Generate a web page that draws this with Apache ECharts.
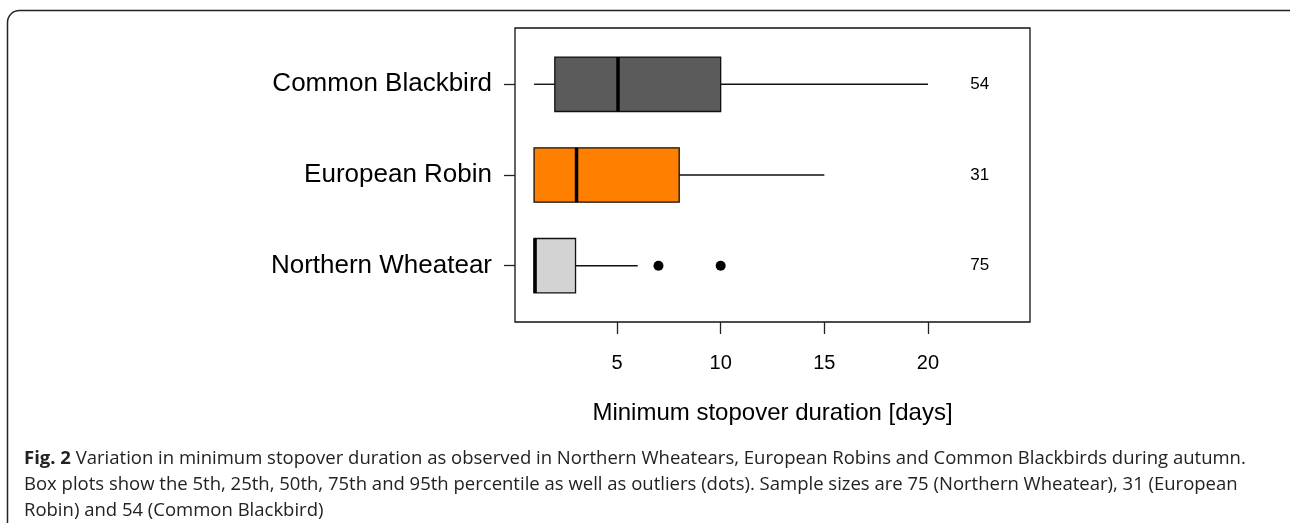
<!DOCTYPE html>
<html>
<head>
<meta charset="utf-8">
<title>Minimum stopover duration</title>
<script src="https://cdn.jsdelivr.net/npm/echarts@6/dist/echarts.min.js"></script>
<style>
  html, body { margin: 0; padding: 0; background: #fff; }
  #chart { width: 1290px; height: 523px; }
</style>
</head>
<body>
<div id="chart"></div>
<script>
// species from bottom (y=1) to top (y=3)
var species = ['Northern Wheatear', 'European Robin', 'Common Blackbird'];
var whiskerLow = [1, 1, 1];
var quartile1 = [1, 1, 2];
var medians = [1, 3, 5];
var quartile3 = [3, 8, 10];
var whiskerHigh = [6, 15, 20];
var wheatearOutliers = [7, 10];
var sampleSizes = [75, 31, 54];
var xTicks = [5, 10, 15, 20];

var boxColors = ['#d3d3d3', '#ff7f00', '#5b5b5b'];
var labelFont = '"Liberation Sans", Arial, sans-serif';
var nLabelX = 22.5;   // where the sample sizes sit
var boxHalf = 0.3;

var chart = echarts.init(document.getElementById('chart'));

var boxData = species.map(function (s, i) {
    return [i + 1, whiskerLow[i], quartile1[i], medians[i], quartile3[i], whiskerHigh[i]];
});
var outlierData = wheatearOutliers.map(function (v) { return [v, 1]; });
var nData = sampleSizes.map(function (n, i) { return [nLabelX, i + 1, n]; });

function renderBox(params, api) {
    var y = api.value(0);
    var lo = api.coord([api.value(1), y]);
    var q1 = api.coord([api.value(2), y]);
    var md = api.coord([api.value(3), y]);
    var q3 = api.coord([api.value(4), y]);
    var hi = api.coord([api.value(5), y]);
    var top = api.coord([0, y + boxHalf])[1];
    var bot = api.coord([0, y - boxHalf])[1];
    var lineStyle = { stroke: '#111', lineWidth: 1.4 };
    return {
        type: 'group',
        children: [
            { type: 'line', shape: { x1: lo[0], y1: lo[1], x2: q1[0], y2: q1[1] }, style: lineStyle },
            { type: 'line', shape: { x1: q3[0], y1: q3[1], x2: hi[0], y2: hi[1] }, style: lineStyle },
            {
                type: 'rect',
                shape: { x: q1[0], y: top, width: q3[0] - q1[0], height: bot - top },
                style: { fill: boxColors[params.dataIndex], stroke: '#111', lineWidth: 1.3 }
            },
            {
                type: 'line',
                shape: { x1: md[0] + 1, y1: top, x2: md[0] + 1, y2: bot },
                style: { stroke: '#000', lineWidth: 3.5 }
            }
        ]
    };
}

function renderN(params, api) {
    var p = api.coord([api.value(0), api.value(1)]);
    return {
        type: 'text',
        x: p[0], y: p[1],
        style: {
            text: String(api.value(2)),
            font: '17px ' + labelFont,
            fill: '#000',
            align: 'center',
            verticalAlign: 'middle'
        }
    };
}

var option = {
    animation: false,
    title: {
        left: 19,
        top: 441,
        text: '{b|Fig. 2} Variation in minimum stopover duration as observed in Northern Wheatears, European Robins and Common Blackbirds during autumn.\n' +
              'Box plots show the 5th, 25th, 50th, 75th and 95th percentile as well as outliers (dots). Sample sizes are 75 (Northern Wheatear), 31 (European\n' +
              'Robin) and 54 (Common Blackbird)',
        textStyle: {
            fontFamily: '"Open Sans", sans-serif',
            fontSize: 18.5,
            fontWeight: 'normal',
            color: '#222',
            lineHeight: 26,
            rich: {
                b: { fontFamily: '"Open Sans", sans-serif', fontSize: 18.5, fontWeight: 'bold', color: '#222', lineHeight: 26 }
            }
        }
    },
    graphic: [{
        type: 'rect',
        z: -1,
        shape: { x: 7.5, y: 10.5, width: 1300, height: 600, r: 12 },
        style: { fill: 'none', stroke: '#222', lineWidth: 1.5 }
    }],
    grid: {
        left: 515, top: 28, right: 260, bottom: 201,
        show: true, borderColor: '#111', borderWidth: 1.3, backgroundColor: 'transparent'
    },
    xAxis: {
        type: 'value',
        min: 0.08, max: 24.92,
        name: 'Minimum stopover duration [days]',
        nameLocation: 'middle',
        nameGap: 79,
        nameTextStyle: { fontFamily: labelFont, fontSize: 24, color: '#000' },
        axisLine: { show: false },
        splitLine: { show: false },
        axisTick: { show: true, length: 12, customValues: xTicks, lineStyle: { color: '#222', width: 1.3 } },
        axisLabel: { customValues: xTicks, margin: 31, fontFamily: labelFont, fontSize: 20, color: '#000' }
    },
    yAxis: {
        type: 'value',
        min: 0.38, max: 3.62,
        axisLine: { show: false },
        splitLine: { show: false },
        axisTick: { show: true, length: 11, customValues: [1, 2, 3], lineStyle: { color: '#222', width: 1.3 } },
        axisLabel: {
            customValues: [1, 2, 3],
            margin: 23,
            fontFamily: labelFont, fontSize: 26, color: '#000',
            formatter: function (v) { return species[Math.round(v) - 1]; }
        }
    },
    series: [
        {
            type: 'custom',
            renderItem: renderBox,
            encode: { x: [1, 2, 3, 4, 5], y: 0 },
            data: boxData
        },
        {
            type: 'scatter',
            symbol: 'circle',
            symbolSize: 10,
            itemStyle: { color: '#000', opacity: 1 },
            data: outlierData
        },
        {
            type: 'custom',
            renderItem: renderN,
            encode: { x: 0, y: 1 },
            data: nData
        }
    ]
};

chart.setOption(option);
</script>
</body>
</html>
